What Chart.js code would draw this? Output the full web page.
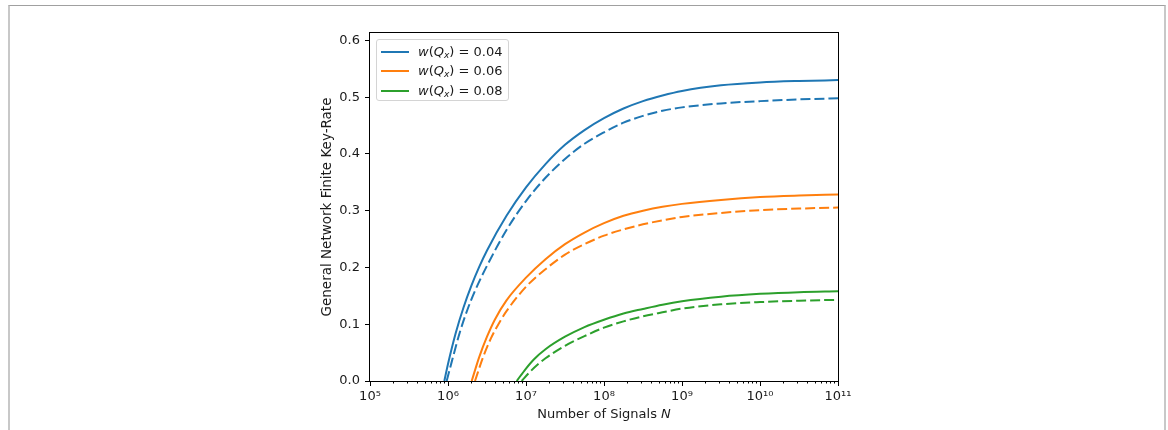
<!DOCTYPE html>
<html>
<head>
<meta charset="utf-8">
<script src="https://cdn.jsdelivr.net/npm/chart.js@4.4.1/dist/chart.umd.min.js"></script>
<style>
  body { margin: 0; background: #fff; font-family: "DejaVu Sans", sans-serif; }
  #wrap { position: relative; width: 1168px; height: 430px; overflow: hidden; }
  #frame { position: absolute; left: 8px; top: 5px; width: 1154px; height: 440px;
           border-top: 1px solid #a0a0a0; border-left: 2px solid #c8c8c8; border-right: 2px solid #c8c8c8; }
  #legend { position: absolute; left: 376px; top: 39px; width: 133px; height: 62px; box-sizing: border-box;
            border: 1px solid #d4d4d4; border-radius: 3px; background: rgba(255,255,255,0.8); }
  .row { position: absolute; left: 0; height: 16px; font-size: 13px; color: #1a1a1a; white-space: nowrap; }
  .row .sample { position: absolute; left: 4px; width: 28px; height: 2px; top: 7px; }
  .row .txt { position: absolute; left: 41px; top: 0; line-height: 16px; }
  .row sub { font-size: 9px; vertical-align: -2px; line-height: 0; }
  #xtitle { position: absolute; left: 0; width: 1208px; top: 406px; line-height: 15px; text-align: center;
            font-size: 13px; color: #1a1a1a; }
</style>
</head>
<body>
<div id="wrap">
  <canvas id="keyRateChart" width="1168" height="430"></canvas>
  <div id="frame"></div>
  <div id="legend"></div>
  <div id="xtitle">Number of Signals <i>N</i></div>
</div>
<script>
// values: x as log10(N), y as key-rate
const wValues = ['0.04', '0.06', '0.08'];

const logN_004_solid = [5.953, 6.0, 6.1, 6.2, 6.3, 6.4, 6.5, 6.75, 7.0, 7.25, 7.5, 7.75, 8.0, 8.25, 8.5, 8.75, 9.0, 9.5, 10, 10.5, 11];
const rate_004_solid = [0, 0.030, 0.085, 0.130, 0.168, 0.201, 0.230, 0.291, 0.341, 0.382, 0.416, 0.442, 0.463, 0.480, 0.493, 0.503, 0.511, 0.521, 0.526, 0.5285, 0.530];
const logN_004_dashed = [5.983, 6.05, 6.15, 6.25, 6.35, 6.5, 6.75, 7.0, 7.25, 7.5, 7.75, 8.0, 8.25, 8.5, 8.75, 9.0, 9.5, 10, 10.5, 11];
const rate_004_dashed = [0, 0.035, 0.085, 0.126, 0.160, 0.203, 0.266, 0.317, 0.358, 0.391, 0.418, 0.438, 0.455, 0.467, 0.476, 0.482, 0.489, 0.493, 0.496, 0.498];

const logN_006_solid = [6.304, 6.4, 6.5, 6.6, 6.75, 7.0, 7.25, 7.5, 7.75, 8.0, 8.25, 8.5, 8.75, 9.0, 9.5, 10, 10.5, 11];
const rate_006_solid = [0, 0.042, 0.078, 0.108, 0.142, 0.182, 0.2145, 0.241, 0.2615, 0.278, 0.291, 0.300, 0.307, 0.312, 0.319, 0.324, 0.3267, 0.3285];
const logN_006_dashed = [6.346, 6.45, 6.55, 6.65, 6.75, 7.0, 7.25, 7.5, 7.75, 8.0, 8.25, 8.5, 8.75, 9.0, 9.5, 10, 10.5, 11];
const rate_006_dashed = [0, 0.042, 0.075, 0.101, 0.123, 0.166, 0.197, 0.2225, 0.241, 0.256, 0.267, 0.276, 0.283, 0.289, 0.296, 0.301, 0.3037, 0.3056];

const logN_008_solid = [6.881, 7.0, 7.1, 7.25, 7.5, 7.75, 8.0, 8.25, 8.5, 8.75, 9.0, 9.5, 10, 10.5, 11];
const rate_008_solid = [0, 0.022, 0.038, 0.056, 0.078, 0.095, 0.108, 0.119, 0.127, 0.1345, 0.1405, 0.1485, 0.1535, 0.1565, 0.158];
const logN_008_dashed = [6.945, 7.05, 7.15, 7.25, 7.5, 7.75, 8.0, 8.25, 8.5, 8.75, 9.0, 9.5, 10, 10.5, 11];
const rate_008_dashed = [0, 0.016, 0.029, 0.040, 0.062, 0.079, 0.094, 0.105, 0.114, 0.121, 0.1275, 0.135, 0.139, 0.1415, 0.143];

const xMajorExps = [5, 6, 7, 8, 9, 10, 11];
const yTicks = [0, 0.1, 0.2, 0.3, 0.4, 0.5, 0.6];
const yMax = 0.613;

const colors = ['#1f77b4', '#ff7f0e', '#2ca02c'];
const dashPattern = [10, 4];

function toPoints(logs, rates) {
    return logs.map((e, i) => ({ x: Math.pow(10, e), y: rates[i] }));
}

const series = [
    [logN_004_solid, rate_004_solid, logN_004_dashed, rate_004_dashed],
    [logN_006_solid, rate_006_solid, logN_006_dashed, rate_006_dashed],
    [logN_008_solid, rate_008_solid, logN_008_dashed, rate_008_dashed]
];

const datasets = [];
series.forEach((s, i) => {
    datasets.push({
        label: 'w(Qx) = ' + wValues[i],
        data: toPoints(s[0], s[1]),
        borderColor: colors[i], borderWidth: 2, pointRadius: 0,
        cubicInterpolationMode: 'monotone', fill: false
    });
    datasets.push({
        label: 'w(Qx) = ' + wValues[i] + ' (dashed)',
        data: toPoints(s[2], s[3]),
        borderColor: colors[i], borderWidth: 2, borderDash: dashPattern, pointRadius: 0,
        cubicInterpolationMode: 'monotone', fill: false
    });
});

const supMap = { '0': '⁰', '1': '¹', '2': '²', '3': '³', '4': '⁴', '5': '⁵', '6': '⁶', '7': '⁷', '8': '⁸', '9': '⁹' };
function powLabel(v) {
    const e = Math.round(Math.log10(v));
    return '10' + String(e).split('').map(c => supMap[c]).join('');
}

// minor ticks (2..9 x 10^k) and the box spines
const axesPlugin = {
    id: 'axesPlugin',
    afterDraw(chart) {
        const ctx = chart.ctx;
        const a = chart.chartArea;
        const xs = chart.scales.x;
        ctx.save();
        ctx.strokeStyle = '#000';
        ctx.lineWidth = 1;
        ctx.beginPath();
        for (let e = 5; e < 11; e++) {
            for (let m = 2; m <= 9; m++) {
                const px = Math.round(xs.getPixelForValue(m * Math.pow(10, e))) + 0.5;
                ctx.moveTo(px, a.bottom);
                ctx.lineTo(px, a.bottom + 2.5);
            }
        }
        ctx.stroke();
        ctx.strokeRect(Math.round(a.left) - 0.5, Math.round(a.top) - 0.5,
                       Math.round(a.right - a.left) + 1, Math.round(a.bottom - a.top) + 1);
        ctx.restore();
    }
};

const tickFont = { family: 'DejaVu Sans', size: 13 };

new Chart(document.getElementById('keyRateChart').getContext('2d'), {
    type: 'line',
    data: { datasets: datasets },
    options: {
        responsive: false,
        animation: false,
        events: [],
        layout: { padding: { left: 319, top: 33, right: 330, bottom: 0 } },
        plugins: { legend: { display: false }, tooltip: { enabled: false } },
        scales: {
            x: {
                type: 'logarithmic',
                min: 1e5, max: 1e11,
                afterBuildTicks: s => { s.ticks = xMajorExps.map(e => ({ value: Math.pow(10, e) })); },
                afterFit: s => { s.height = 49; },
                border: { display: false },
                grid: { drawOnChartArea: false, drawTicks: true, tickLength: 5, tickColor: '#000', color: '#000' },
                ticks: { autoSkip: false, maxRotation: 0, padding: 3, color: '#1a1a1a', font: tickFont,
                         callback: v => powLabel(v) }
            },
            y: {
                min: 0, max: yMax,
                afterBuildTicks: s => { s.ticks = yTicks.map(v => ({ value: v })); },
                afterFit: s => { s.width = 51; },
                border: { display: false },
                grid: { drawOnChartArea: false, drawTicks: true, tickLength: 5, tickColor: '#000', color: '#000' },
                ticks: { padding: 5, color: '#1a1a1a', font: tickFont, callback: v => v.toFixed(1) },
                title: { display: true, text: 'General Network Finite Key-Rate', color: '#1a1a1a',
                         font: { family: 'DejaVu Sans', size: 13.5 }, padding: { top: 0, bottom: 0 } }
            }
        }
    },
    plugins: [axesPlugin]
});

// legend with math-style labels
const legend = document.getElementById('legend');
wValues.forEach((w, i) => {
    const row = document.createElement('div');
    row.className = 'row';
    row.style.top = (3.5 + i * 19.7) + 'px';
    row.style.width = '130px';
    row.innerHTML = '<span class="sample" style="background:' + colors[i] + '"></span>' +
        '<span class="txt"><i>w</i>(<i>Q</i><sub><i>x</i></sub>) = ' + w + '</span>';
    legend.appendChild(row);
});
</script>
</body>
</html>
